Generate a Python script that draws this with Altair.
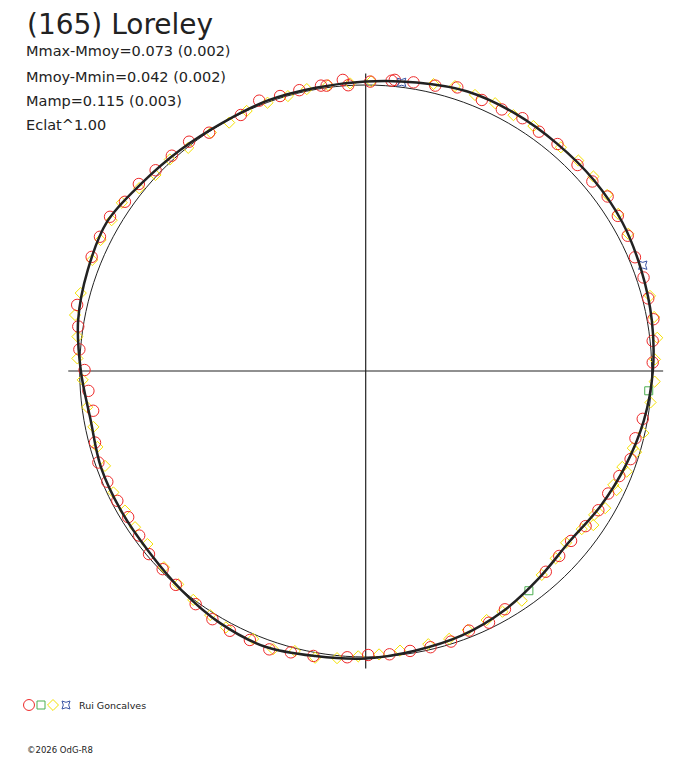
import altair as alt
import pandas as pd

# ---------------- text ----------------
TITLE = "(165) Loreley"
INFO = ["Mmax-Mmoy=0.073 (0.002)", "Mmoy-Mmin=0.042 (0.002)",
        "Mamp=0.115 (0.003)", "Eclat^1.00"]
OBSERVER = "Rui Goncalves"
COPYRIGHT = "\u00a92026 OdG-R8"

# ---------------- data (angle in degrees, dm = mag - Mmoy) ----------------
curve_angle = list(range(0, 360, 10))
curve_dm = [-0.004, -0.016, -0.026, -0.037, -0.040, -0.039, -0.041, -0.040, -0.024, -0.012,
            -0.006, -0.006, -0.002, -0.009, -0.022, -0.044, -0.034, -0.021, 0.004, 0.023,
            0.015, 0.015, 0.013, -0.001, -0.018, -0.026, -0.012, -0.005, 0.007, 0.016,
            0.033, 0.056, 0.071, 0.053, 0.033, 0.012]

red_angle = [89.1, 84.9, 84.3, 80.6, 76.3, 72.1, 66.8, 62.5, 58.2, 54.1, 49.8, 44.2, 39.9, 35.8,
             31.6, 27.3, 22.9, 18.6, 14.4, 10.2, 6.0, 1.7, 350.2, 346.0, 341.6, 337.5, 333.2,
             329.1, 324.8, 320.4, 316.3, 311.9, 300.3, 296.1, 291.7, 287.5, 283.2, 279.0, 274.8,
             270.5, 266.3, 259.6, 255.1, 250.9, 246.7, 242.4, 238.3, 233.9, 228.4, 224.3, 220.2,
             216.0, 211.6, 207.6, 203.2, 198.9, 194.8, 188.3, 184.1, 179.8, 175.7, 171.2, 167.1,
             157.4, 153.2, 148.9, 144.9, 140.5, 136.3, 132.0, 127.6, 123.3, 116.0, 111.5, 107.3,
             103.3, 98.9, 97.8, 94.5, 93.5]
red_dm = [-0.012, -0.019, -0.023, -0.023, -0.027, -0.042, -0.031, -0.031, -0.040, -0.033, -0.039,
          -0.033, -0.033, -0.043, -0.035, -0.031, -0.022, -0.025, -0.020, -0.022, -0.009, -0.004,
          0.017, 0.028, 0.024, 0.040, 0.050, 0.052, 0.059, 0.068, 0.064, 0.057, 0.035, 0.020,
          0.023, 0.008, 0.008, 0.009, 0.006, 0.007, -0.003, -0.013, -0.018, -0.030, -0.024,
          -0.025, -0.020, -0.009, 0.000, 0.008, 0.008, 0.021, 0.025, 0.020, 0.017, 0.012, 0.021,
          0.037, 0.028, 0.017, -0.004, -0.017, -0.035, -0.038, -0.041, -0.044, -0.029, -0.028,
          -0.016, -0.013, -0.012, 0.003, 0.004, -0.016, -0.007, -0.009, -0.010, -0.007, -0.021,
          -0.001]

yellow_angle = [88.9, 76.7, 72.6, 68.4, 64.2, 60.0, 55.6, 48.9, 44.7, 40.5, 36.1, 31.9, 27.6,
                14.8, 10.6, 6.5, 2.3, 357.9, 353.7, 347.4, 343.3, 343.9, 339.5, 338.9, 335.3,
                334.6, 330.2, 327.8, 325.9, 323.8, 319.4, 315.4, 310.8, 304.2, 299.6, 295.9,
                291.5, 287.3, 282.9, 277.0, 272.7, 268.5, 264.3, 260.0, 255.8, 251.6, 247.2,
                241.4, 237.5, 233.0, 228.7, 224.2, 218.4, 214.1, 210.1, 205.7, 200.0, 195.8,
                191.6, 187.4, 181.8, 177.5, 173.2, 169.1, 164.7, 157.9, 153.7, 149.3, 145.4,
                141.1, 137.0, 132.8, 128.5, 123.0, 118.8, 114.6, 110.1, 105.8, 101.8, 97.5, 93.1]
yellow_dm = [-0.013, -0.031, -0.044, -0.038, -0.040, -0.033, -0.038, -0.038, -0.046, -0.047,
             -0.045, -0.040, -0.036, -0.028, -0.026, -0.026, -0.012, -0.011, -0.002, 0.005,
             0.013, 0.028, 0.042, 0.022, 0.047, 0.029, 0.035, 0.056, 0.039, 0.064, 0.077, 0.067,
             0.058, 0.029, 0.032, 0.032, 0.027, 0.019, 0.020, 0.015, 0.008, 0.002, -0.009,
             -0.018, -0.010, -0.025, -0.016, -0.021, -0.012, -0.002, 0.007, 0.016, 0.026, 0.026,
             0.027, 0.021, 0.030, 0.025, 0.028, 0.018, 0.010, -0.009, -0.015, -0.035, -0.033,
             -0.032, -0.034, -0.033, -0.036, -0.018, -0.005, -0.008, 0.003, 0.006, 0.009, 0.000,
             0.001, 0.001, -0.007, -0.008, -0.007]

green_angle = [356.0, 306.6]
green_dm = [0.008, 0.043]

blue_angle = [82.9, 20.9]
blue_dm = [-0.017, -0.037]

AXIS_EXTENT = 1.04  # half-length of the cross, in units of the mean radius

# ---------------- layout ----------------
W, H = 670, 748
K = 286.0               # pixels per unit radius
CX, CY = 357.7, 363.0   # pole position inside the plot area
xs = alt.Scale(domain=[-CX / K, (W - CX) / K], nice=False, zero=False)
ys = alt.Scale(domain=[-(H - CY) / K, CY / K], nice=False, zero=False)

INK = "#222222"
FONT = "DejaVu Sans"
RED, GREEN, YELLOW, BLUE = "#ee2a2a", "#4caf50", "#f5e100", "#3a55a4"
STAR = "M-1,-1Q0,-0.35,1,-1Q0.35,0,1,1Q0,0.35,-1,1Q-0.35,0,-1,-1Z"

PX = "(1 - datum.dm) * cos(datum.angle * PI / 180)"
PY = "(1 - datum.dm) * sin(datum.angle * PI / 180)"


def polar(chart):
    return chart.transform_calculate(px=PX, py=PY)


def xy():
    return dict(x=alt.X("px:Q", scale=xs, axis=None),
                y=alt.Y("py:Q", scale=ys, axis=None))


# mean-magnitude circle
circle = polar(
    alt.Chart(alt.sequence(0, 360, 2, as_="angle")).transform_calculate(dm="0")
).mark_line(color=INK, strokeWidth=1, interpolate="linear-closed").encode(
    order=alt.Order("angle:Q"), **xy())

# cross
cross_df = pd.DataFrame({"lo": [-AXIS_EXTENT], "hi": [AXIS_EXTENT], "zero": [0.0]})
hline = alt.Chart(cross_df).mark_rule(color=INK, strokeWidth=1.2).encode(
    x=alt.X("lo:Q", scale=xs, axis=None), x2="hi:Q", y=alt.Y("zero:Q", scale=ys, axis=None))
vline = alt.Chart(cross_df).mark_rule(color=INK, strokeWidth=1.2).encode(
    y=alt.Y("lo:Q", scale=ys, axis=None), y2="hi:Q", x=alt.X("zero:Q", scale=xs, axis=None))


def points(angles, dms, shape, color, size, sw=1):
    df = pd.DataFrame({"angle": angles, "dm": dms})
    return polar(alt.Chart(df)).mark_point(
        shape=shape, color=color, size=size, filled=False, opacity=1, strokeWidth=sw
    ).encode(**xy())


p_yellow = points(yellow_angle, yellow_dm, "diamond", YELLOW, 125)
p_red = points(red_angle, red_dm, "circle", RED, 130)
p_green = points(green_angle, green_dm, "square", GREEN, 64)
p_blue = points(blue_angle, blue_dm, STAR, BLUE, 70)

curve = polar(alt.Chart(pd.DataFrame({"angle": curve_angle, "dm": curve_dm}))).mark_line(
    color=INK, strokeWidth=2.5, interpolate="cardinal-closed").encode(
    order=alt.Order("angle:Q"), **xy())


def label(text, x, y, size):
    return alt.Chart(pd.DataFrame({"t": [text]})).mark_text(
        align="left", baseline="alphabetic", font=FONT, fontSize=size, color=INK
    ).encode(text="t:N", x=alt.value(x), y=alt.value(y))


texts = [label(TITLE, 19, 26, 28)]
for i, line in enumerate(INFO):
    texts.append(label(line, 18, [48, 73.7, 98, 122][i], 14.5))
texts.append(label(OBSERVER, 71, 701, 9.5))
texts.append(label(COPYRIGHT, 19, 745, 8.5))


def legend_mark(shape, color, size, x):
    return alt.Chart(pd.DataFrame({"k": [0]})).mark_point(
        shape=shape, color=color, size=size, filled=False, opacity=1, strokeWidth=1
    ).encode(x=alt.value(x), y=alt.value(697))


legend = [legend_mark("circle", RED, 120, 21), legend_mark("square", GREEN, 64, 33),
          legend_mark("diamond", YELLOW, 120, 45), legend_mark(STAR, BLUE, 64, 58)]

chart = alt.layer(circle, hline, vline, p_yellow, p_red, p_green, p_blue, curve,
                  *texts, *legend).properties(
    width=W, height=H, padding=0, background="white"
).configure_view(stroke=None)

chart.save("out.html", embed_options={"renderer": "svg", "actions": False})
